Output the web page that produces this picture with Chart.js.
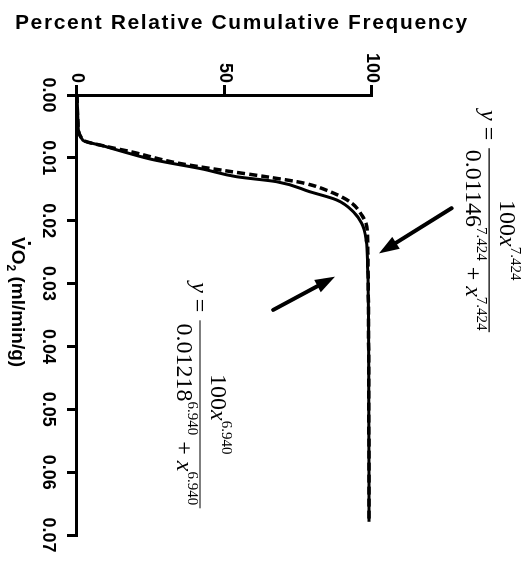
<!DOCTYPE html>
<html>
<head>
<meta charset="utf-8">
<script src="https://cdn.jsdelivr.net/npm/chart.js@4.4.1/dist/chart.umd.min.js"></script>
<style>
  html, body { margin: 0; padding: 0; background: #fff; overflow: hidden; }
  #wrap { position: relative; width: 525px; height: 562px; }
  /* the figure is printed turned a quarter turn clockwise */
  #chart { position: absolute; left: 0; top: 0; transform-origin: 0 0; transform: translate(525px, 0) rotate(90deg); }
</style>
</head>
<body>
<div id="wrap"><canvas id="chart" width="562" height="525"></canvas></div>
<script>
"use strict";

// VO2 (ml/min/g) vs percent relative cumulative frequency
const vo2Solid = [0, 0.0045, 0.0072, 0.0081, 0.0092, 0.0103, 0.0118, 0.0130, 0.0138, 0.0154, 0.0167, 0.0186, 0.0204, 0.0231, 0.0273, 0.0350, 0.0485, 0.0679];
const pctSolid = [0, 0.3, 2.0, 8.9, 17.0, 25.9, 42.8, 54.1, 67.7, 79.0, 88.0, 93.7, 96.5, 98.0, 98.5, 98.8, 98.9, 99.0];

const vo2Dashed = [0, 0.0045, 0.0072, 0.0082, 0.0090, 0.0108, 0.0120, 0.0131, 0.0140, 0.0156, 0.0172, 0.0191, 0.0209, 0.0250, 0.0350, 0.0679];
const pctDashed = [0, 0.3, 2.2, 10.0, 18.0, 33.8, 49.6, 65.4, 76.7, 86.9, 93.1, 96.5, 98.2, 98.6, 98.8, 99.0];

const vo2Ticks = [0, 0.01, 0.02, 0.03, 0.04, 0.05, 0.06, 0.07];
const pctTicks = [0, 50, 100];

const titleText = "Percent Relative Cumulative Frequency";
const fits = [
  { k: "0.01146", n: "7.424" },
  { k: "0.01218", n: "6.940" },
];

// annotation anchors, in data units (vo2, pct)
const eqCenters = [[0.0231, 139.7], [0.0508, 41.7]];
const eqBarLen = [184, 188];
const arrowTails = [[0.0180, 127.0], [0.0342, 66.5]];
const arrowTips = [[0.0252, 102.4], [0.0289, 87.5]];

const SERIF = '"Liberation Serif", "Times New Roman", serif';
const SANS = '"Liberation Sans", Arial, sans-serif';

function fontFor(kind) {
  if (kind === "i") return "italic 24px " + SERIF;
  if (kind === "s") return "15px " + SERIF;
  return "24px " + SERIF;
}

function runWidth(ctx, parts) {
  let w = 0;
  for (const [t, k] of parts) {
    ctx.font = fontFor(k);
    w += ctx.measureText(t).width;
  }
  return w;
}

function drawRun(ctx, parts, x, base) {
  let cx = x;
  for (const [t, k] of parts) {
    ctx.font = fontFor(k);
    ctx.fillText(t, cx, k === "s" ? base - 11 : base);
    cx += ctx.measureText(t).width;
  }
}

function drawArrow(ctx, x0, y0, x1, y1) {
  const a = Math.atan2(y1 - y0, x1 - x0);
  const head = 20, half = 7;
  const bx = x1 - head * Math.cos(a), by = y1 - head * Math.sin(a);
  ctx.lineWidth = 4;
  ctx.lineCap = "round";
  ctx.beginPath();
  ctx.moveTo(x0, y0);
  ctx.lineTo(bx, by);
  ctx.stroke();
  ctx.beginPath();
  ctx.moveTo(x1, y1);
  ctx.lineTo(bx + half * Math.sin(a), by - half * Math.cos(a));
  ctx.lineTo(bx - half * Math.sin(a), by + half * Math.cos(a));
  ctx.closePath();
  ctx.fill();
}

const figureText = {
  id: "figureText",
  afterDraw(chart) {
    const { ctx } = chart;
    const xs = chart.scales.x, ys = chart.scales.y;
    ctx.save();
    ctx.fillStyle = "#000";
    ctx.strokeStyle = "#000";
    ctx.textBaseline = "alphabetic";
    ctx.textAlign = "left";

    // value axis title (ends up across the top of the page)
    ctx.save();
    ctx.translate(29, 510);
    ctx.rotate(-Math.PI / 2);
    ctx.font = "bold 21px " + SANS;
    ctx.letterSpacing = "1.6px";
    ctx.fillText(titleText, 0, 0);
    ctx.restore();

    // VO2 axis title
    let ux = 237;
    const base = 513;
    ctx.font = "bold 19px " + SANS;
    const vw = ctx.measureText("V").width;
    ctx.fillText("V", ux, base);
    ctx.fillRect(ux + vw / 2 - 1.5, base - 19, 3, 3);
    ux += vw;
    ctx.fillText("O", ux, base);
    ux += ctx.measureText("O").width;
    ctx.font = "bold 12px " + SANS;
    ctx.fillText("2", ux, base + 5);
    ux += ctx.measureText("2").width;
    ctx.font = "bold 19px " + SANS;
    ctx.fillText(" (ml/min/g)", ux, base);

    // fitted equations
    fits.forEach((f, i) => {
      const cx = xs.getPixelForValue(eqCenters[i][0]);
      const cy = ys.getPixelForValue(eqCenters[i][1]);
      const len = eqBarLen[i];
      const x0 = cx - len / 2;
      ctx.lineWidth = 1.2;
      ctx.beginPath();
      ctx.moveTo(x0, cy);
      ctx.lineTo(x0 + len, cy);
      ctx.stroke();

      const num = [["100", "n"], ["x", "i"], [f.n, "s"]];
      const den = [[f.k, "n"], [f.n, "s"], [" + ", "n"], ["x", "i"], [f.n, "s"]];
      drawRun(ctx, num, cx - runWidth(ctx, num) / 2, cy - 11);
      drawRun(ctx, den, cx - runWidth(ctx, den) / 2, cy + 23);

      const lhs = [["y", "i"], [" =", "n"]];
      drawRun(ctx, lhs, x0 - 8 - runWidth(ctx, lhs), cy + 8);
    });

    // arrows
    arrowTails.forEach((t, i) => {
      drawArrow(ctx,
        xs.getPixelForValue(t[0]), ys.getPixelForValue(t[1]),
        xs.getPixelForValue(arrowTips[i][0]), ys.getPixelForValue(arrowTips[i][1]));
    });
    ctx.restore();
  },
};

const axisGrid = { drawOnChartArea: false, drawTicks: true, tickLength: 10, color: "#000", lineWidth: 3 };
const axisBorder = { display: true, color: "#000", width: 3 };
const tickFont = { family: SANS, size: 18, weight: "bold" };

new Chart(document.getElementById("chart"), {
  type: "line",
  data: {
    datasets: [
      {
        label: "solid",
        data: vo2Solid.map((v, i) => ({ x: v, y: pctSolid[i] })),
        borderColor: "#000",
        borderWidth: 3,
        pointRadius: 0,
        cubicInterpolationMode: "monotone",
      },
      {
        label: "dashed",
        data: vo2Dashed.map((v, i) => ({ x: v, y: pctDashed[i] })),
        borderColor: "#000",
        borderWidth: 3.5,
        borderDash: [8, 4],
        pointRadius: 0,
        cubicInterpolationMode: "monotone",
      },
    ],
  },
  options: {
    responsive: false,
    animation: false,
    layout: { padding: { top: 153, right: 27, left: 0, bottom: 0 } },
    plugins: { legend: { display: false }, tooltip: { enabled: false } },
    scales: {
      x: {
        type: "linear",
        min: 0,
        max: 0.07,
        afterFit: (s) => { s.height = 77; },
        afterBuildTicks: (s) => { s.ticks = vo2Ticks.map((v) => ({ value: v })); },
        ticks: {
          color: "#000",
          font: tickFont,
          padding: 8,
          maxRotation: 0,
          autoSkip: false,
          callback: (v) => Number(v).toFixed(2),
        },
        grid: axisGrid,
        border: axisBorder,
      },
      y: {
        type: "linear",
        min: 0,
        max: 100,
        afterFit: (s) => { s.width = 95; },
        afterBuildTicks: (s) => { s.ticks = pctTicks.map((v) => ({ value: v })); },
        ticks: { color: "#000", font: tickFont, padding: 2 },
        grid: axisGrid,
        border: axisBorder,
      },
    },
  },
  plugins: [figureText],
});
</script>
</body>
</html>
